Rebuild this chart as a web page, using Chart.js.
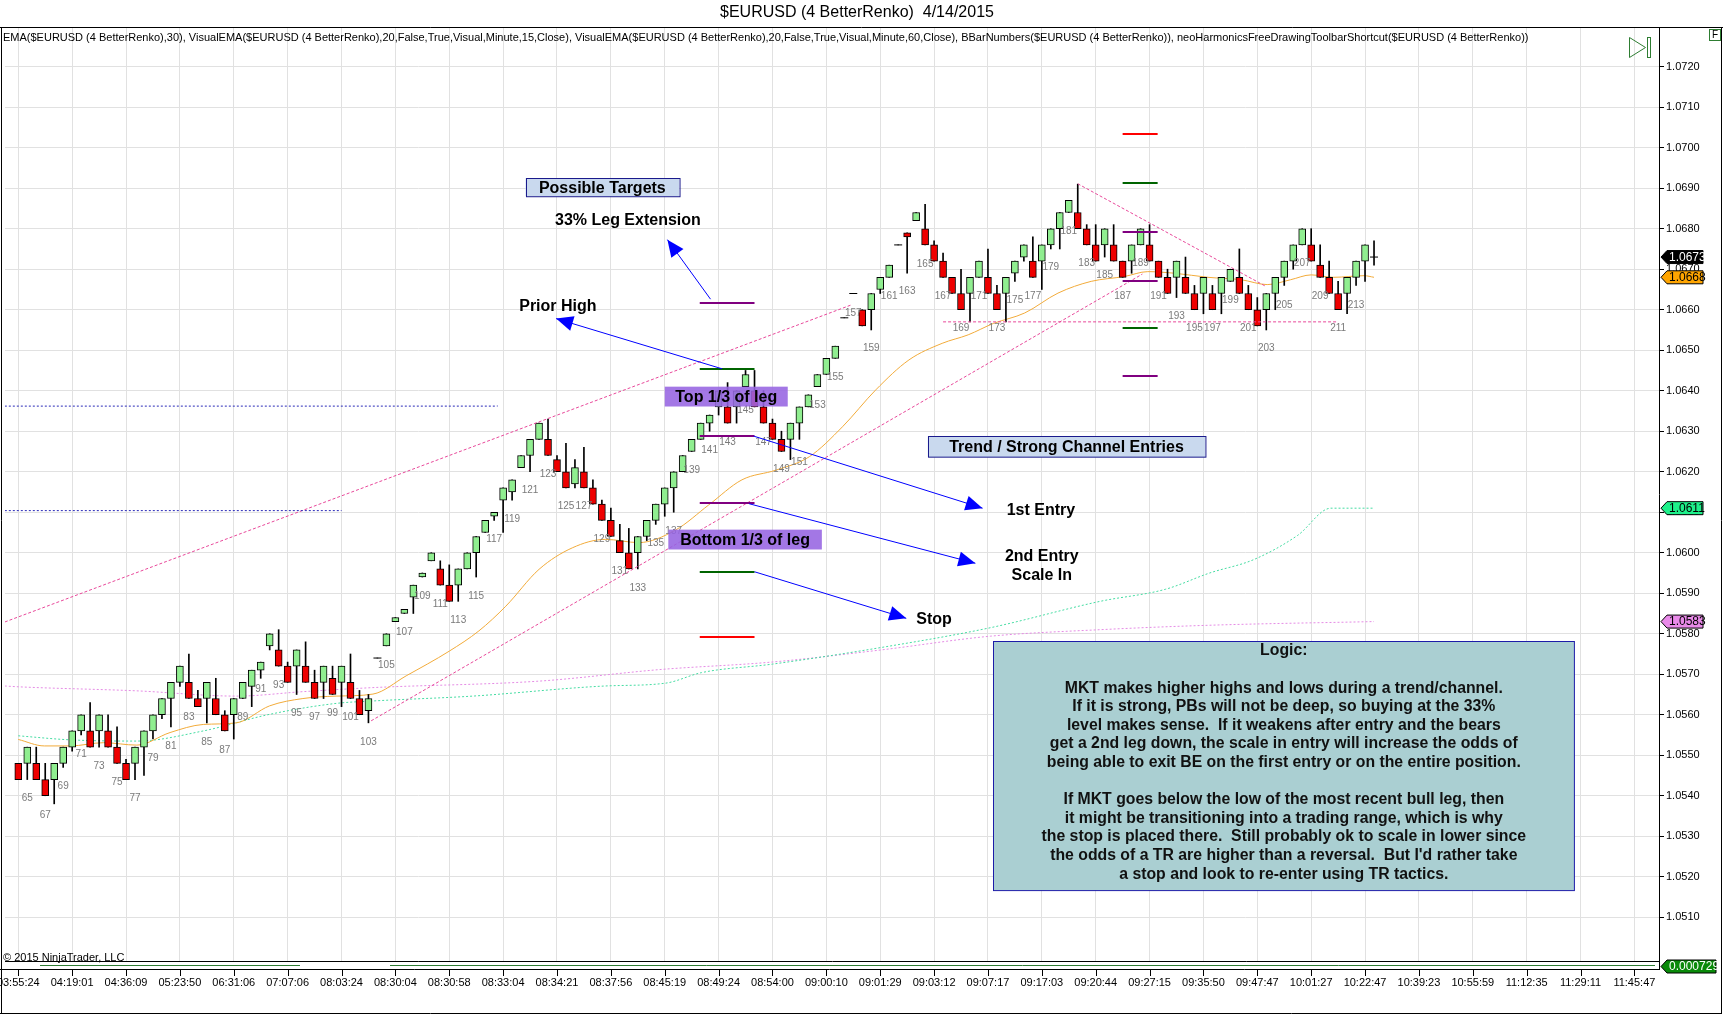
<!DOCTYPE html>
<html>
<head>
<meta charset="utf-8">
<script src="https://cdn.jsdelivr.net/npm/chart.js@4.4.1/dist/chart.umd.min.js"></script>
<style>
  html, body { margin: 0; padding: 0; background: #fff; }
  #wrap { width: 1723px; height: 1015px; position: relative; }
</style>
</head>
<body>
<div id="wrap"><canvas id="c" width="1723" height="1015"></canvas></div>
<script>
// renko bricks, bar numbers 64 .. 215
const firstBar = 64;
const opens = [
  1.0548,1.0548,1.0548,1.0544,1.0544,1.0548,1.0552,1.0556,1.0556,1.0556,
  1.0556,1.0552,1.0548,1.0548,1.0552,1.0556,1.0560,1.0564,1.0568,1.0568,
  1.0564,1.0564,1.0564,1.0560,1.0560,1.0564,1.0567,1.0571,1.0577,1.0576,
  1.0572,1.0572,1.0572,1.0568,1.0568,1.0569,1.0568,1.0568,1.0564,1.0561,
  1.0574,1.0577,1.0583,1.0585,1.0589,1.0594,1.0598,1.0596,1.0592,1.0592,
  1.0596,1.0600,1.0605,1.0609,1.0613,1.0615,1.0621,1.0624,1.0628,1.0628,
  1.0623,1.0620,1.0617,1.0620,1.0616,1.0612,1.0608,1.0603,1.0600,1.0600,
  1.0604,1.0608,1.0612,1.0616,1.0620,1.0625,1.0628,1.0632,1.0636,1.0636,
  1.0636,1.0641,1.0640,1.0636,1.0632,1.0628,1.0628,1.0632,1.0636,1.0641,
  1.0644,1.0648,1.0658,1.0664,1.0660,1.0660,1.0665,1.0668,1.0676,1.0679,
  1.0682,1.0680,1.0676,1.0672,1.0668,1.0664,1.0664,1.0668,1.0668,1.0664,
  1.0664,1.0669,1.0673,1.0672,1.0672,1.0676,1.0680,1.0684,1.0684,1.0680,
  1.0676,1.0676,1.0676,1.0672,1.0672,1.0676,1.0676,1.0672,1.0668,1.0668,
  1.0668,1.0664,1.0664,1.0664,1.0664,1.0667,1.0668,1.0664,1.0660,1.0660,
  1.0664,1.0668,1.0672,1.0676,1.0676,1.0671,1.0668,1.0664,1.0664,1.0668,
  1.0672,1.0673
];
const closes = [
  1.0544,1.0552,1.0544,1.0540,1.0548,1.0552,1.0556,1.0560,1.0552,1.0560,
  1.0552,1.0548,1.0544,1.0552,1.0556,1.0560,1.0564,1.0568,1.0572,1.0564,
  1.0562,1.0568,1.0560,1.0556,1.0564,1.0568,1.0571,1.0573,1.0580,1.0572,
  1.0568,1.0576,1.0568,1.0564,1.0572,1.0565,1.0572,1.0564,1.0560,1.0564,
  1.0574,1.0580,1.0584,1.0586,1.0592,1.0595,1.0600,1.0592,1.0588,1.0596,
  1.0600,1.0604,1.0608,1.0610,1.0616,1.0618,1.0624,1.0628,1.0632,1.0624,
  1.0620,1.0616,1.0621,1.0616,1.0612,1.0608,1.0604,1.0600,1.0596,1.0604,
  1.0608,1.0612,1.0616,1.0620,1.0624,1.0628,1.0632,1.0634,1.0640,1.0632,
  1.0640,1.0644,1.0636,1.0632,1.0628,1.0625,1.0632,1.0636,1.0639,1.0644,
  1.0648,1.0651,1.0658,1.0664,1.0656,1.0664,1.0668,1.0671,1.0676,1.0678,
  1.0684,1.0676,1.0672,1.0668,1.0664,1.0660,1.0668,1.0672,1.0664,1.0660,
  1.0668,1.0672,1.0676,1.0668,1.0676,1.0680,1.0684,1.0687,1.0680,1.0676,
  1.0672,1.0680,1.0672,1.0668,1.0676,1.0680,1.0672,1.0668,1.0664,1.0672,
  1.0664,1.0660,1.0668,1.0660,1.0668,1.0670,1.0664,1.0660,1.0656,1.0664,
  1.0668,1.0672,1.0676,1.0680,1.0672,1.0668,1.0664,1.0660,1.0668,1.0672,
  1.0676,1.0673
];
const highs = [
  1.0548,1.0552,1.0552,1.0548,1.0548,1.0552,1.0556,1.0560,1.0563,1.0560,
  1.0560,1.0557,1.0549,1.0552,1.0556,1.0560,1.0564,1.0568,1.0572,1.0575,
  1.0566,1.0568,1.0569,1.0561,1.0564,1.0568,1.0571,1.0573,1.0580,1.0581,
  1.0573,1.0576,1.0578,1.0571,1.0572,1.0572,1.0572,1.0575,1.0566,1.0565,
  1.0574,1.0580,1.0584,1.0586,1.0592,1.0595,1.0600,1.0598,1.0597,1.0596,
  1.0600,1.0604,1.0608,1.0610,1.0616,1.0618,1.0624,1.0628,1.0632,1.0633,
  1.0624,1.0627,1.0623,1.0626,1.0618,1.0613,1.0611,1.0607,1.0606,1.0604,
  1.0608,1.0612,1.0616,1.0620,1.0624,1.0628,1.0632,1.0634,1.0640,1.0642,
  1.0640,1.0645,1.0645,1.0640,1.0633,1.0630,1.0632,1.0636,1.0639,1.0644,
  1.0648,1.0651,1.0658,1.0664,1.0660,1.0664,1.0668,1.0671,1.0676,1.0679,
  1.0684,1.0686,1.0677,1.0674,1.0668,1.0670,1.0668,1.0672,1.0675,1.0666,
  1.0668,1.0672,1.0676,1.0678,1.0676,1.0680,1.0684,1.0687,1.0691,1.0681,
  1.0681,1.0680,1.0681,1.0672,1.0676,1.0680,1.0681,1.0672,1.0670,1.0672,
  1.0673,1.0666,1.0668,1.0666,1.0668,1.0670,1.0675,1.0666,1.0663,1.0664,
  1.0668,1.0672,1.0676,1.0680,1.0680,1.0676,1.0672,1.0667,1.0668,1.0672,
  1.0676,1.0677
];
const lows = [
  1.0544,1.0544,1.0544,1.0540,1.0538,1.0547,1.0551,1.0555,1.0552,1.0552,
  1.0552,1.0548,1.0544,1.0544,1.0545,1.0554,1.0559,1.0557,1.0567,1.0564,
  1.0562,1.0558,1.0560,1.0556,1.0554,1.0564,1.0562,1.0569,1.0576,1.0572,
  1.0568,1.0565,1.0568,1.0564,1.0564,1.0565,1.0562,1.0564,1.0560,1.0558,
  1.0574,1.0577,1.0583,1.0585,1.0585,1.0594,1.0598,1.0592,1.0588,1.0588,
  1.0596,1.0594,1.0605,1.0608,1.0605,1.0613,1.0621,1.0620,1.0628,1.0624,
  1.0620,1.0616,1.0616,1.0616,1.0612,1.0608,1.0604,1.0600,1.0596,1.0596,
  1.0603,1.0607,1.0609,1.0610,1.0620,1.0625,1.0628,1.0630,1.0634,1.0632,
  1.0632,1.0641,1.0636,1.0632,1.0628,1.0625,1.0623,1.0628,1.0636,1.0641,
  1.0644,1.0648,1.0658,1.0664,1.0656,1.0655,1.0664,1.0668,1.0676,1.0669,
  1.0682,1.0676,1.0672,1.0668,1.0664,1.0660,1.0657,1.0668,1.0664,1.0660,
  1.0657,1.0667,1.0672,1.0668,1.0665,1.0675,1.0675,1.0684,1.0680,1.0676,
  1.0672,1.0673,1.0672,1.0668,1.0669,1.0676,1.0672,1.0668,1.0664,1.0663,
  1.0664,1.0660,1.0659,1.0660,1.0659,1.0667,1.0664,1.0660,1.0656,1.0655,
  1.0660,1.0666,1.0670,1.0676,1.0672,1.0668,1.0664,1.0660,1.0659,1.0666,
  1.0667,1.0671
];

// EMA(30) on bricks
const emaBars = [64,66.9,69.8,73.5,77.2,80.9,84.6,88.3,92.0,95.7,99.4,103.5,107.2,112.0,115.3,118.3,122.0,125.7,129.4,133.1,
  137.2,140.9,144.6,148.4,152.1,155.8,159.5,163.2,166.9,169.8,172.6,176.1,179.8,183.5,187.2,189.8,192.8,196.5,200.2,203.1,
  205.7,208.0,210.5,213.9,215];
const emaVals = [1.05539,1.05523,1.05523,1.05531,1.05525,1.05556,1.05576,1.0558,1.05622,1.0564,1.05646,1.05651,1.05696,1.05757,1.05807,1.05868,1.05959,1.06012,1.06033,1.06025,
  1.06056,1.06118,1.0618,1.06204,1.06237,1.06311,1.06402,1.06476,1.06517,1.06538,1.06566,1.06592,1.06641,1.0667,1.06682,1.06694,1.0669,1.0668,1.06674,1.06662,
  1.06674,1.06686,1.0668,1.06684,1.0668];
// VisualEMA 15 minute
const ema15Bars = [64,69.8,77.2,84.6,92,99.4,103.5,114.6,129.4,136.1,140.1,148,160.1,172.3,184.5,191.8,196.7,201.6,206.5,210.2,215];
const ema15Vals = [1.05548,1.05538,1.05535,1.0556,1.05601,1.05628,1.05634,1.05646,1.05671,1.05678,1.05704,1.05725,1.05766,1.05815,1.0588,1.0591,1.0595,1.05983,1.06043,1.0611,1.0611];
// VisualEMA 60 minute
const ema60Bars = [62.5,64,77.2,88.3,95.7,103.5,122,135.7,147.9,160.1,172.3,184.5,196.7,215];
const ema60Vals = [1.05671,1.05669,1.05659,1.05646,1.05657,1.05667,1.05683,1.05712,1.0573,1.0576,1.05794,1.0581,1.05821,1.0583];

// bar number labels (odd bars) and the price level they sit at
const barNumberBars = [65,67,69,71,73,75,77,79,81,83,85,87,89,91,93,95,97,99,101,103,
  105,107,109,111,113,115,117,119,121,123,125,127,129,131,133,135,137,139,141,143,
  145,147,149,151,153,155,157,159,161,163,165,167,169,171,173,175,177,179,181,183,
  185,187,189,191,193,195,197,199,201,203,205,207,209,211,213];
const barNumberPrices = [1.05394,1.05353,1.05424,1.05502,1.05472,1.05434,1.05394,1.05492,1.05523,1.05594,1.05533,1.05513,1.05594,1.05663,1.05673,1.05603,1.05594,1.05603,1.05594,1.05533,
  1.05722,1.05804,1.05893,1.05873,1.05834,1.05893,1.06033,1.06082,1.06154,1.06193,1.06115,1.06115,1.06033,1.05955,1.05912,1.06023,1.06053,1.06204,1.06252,1.06273,
  1.06353,1.06273,1.06205,1.06224,1.06363,1.06433,1.06592,1.06504,1.06633,1.06645,1.06713,1.06633,1.06553,1.06633,1.06553,1.06623,1.06633,1.06704,1.06793,1.06715,
  1.06684,1.06633,1.06715,1.06633,1.06584,1.06553,1.06553,1.06623,1.06553,1.06504,1.06612,1.06715,1.06633,1.06553,1.06612];

const timeTickBars = [64,70,76,82,88,94,100,106,112,118,124,130,136,142,148,154,160,166,172,178,184,190,196,202,208,214,220,226,232,238,244];
const timeLabels = ['03:55:24','04:19:01','04:36:09','05:23:50','06:31:06','07:07:06','08:03:24','08:30:04','08:30:58','08:33:04',
  '08:34:21','08:37:56','08:45:19','08:49:24','08:54:00','09:00:10','09:01:29','09:03:12','09:07:17','09:17:03',
  '09:20:44','09:27:15','09:35:50','09:47:47','10:01:27','10:22:47','10:39:23','10:55:59','11:12:35','11:29:11','11:45:47'];
const priceTicks = [1.0510,1.0520,1.0530,1.0540,1.0550,1.0560,1.0570,1.0580,1.0590,1.0600,1.0610,
  1.0620,1.0630,1.0640,1.0650,1.0660,1.0670,1.0680,1.0690,1.0700,1.0710,1.0720];

// drawing objects, in bar / price units
const trendLines = [
  { x1: 62.5, y1: 1.05829, x2: 156.8, y2: 1.06612, color: '#e8489a', dash: [3, 2] },
  { x1: 103.3, y1: 1.05585, x2: 189.2, y2: 1.06688, color: '#e8489a', dash: [3, 2] },
  { x1: 182, y1: 1.06911, x2: 203, y2: 1.06657, color: '#e8489a', dash: [3, 2] },
  { x1: 167, y1: 1.0657, x2: 211, y2: 1.0657, color: '#e8489a', dash: [3, 2] },
  { x1: 62.5, y1: 1.06362, x2: 117.4, y2: 1.06362, color: '#2a2ab8', dash: [2, 2] },
  { x1: 62.5, y1: 1.06104, x2: 100, y2: 1.06104, color: '#2a2ab8', dash: [2, 2] }
];
const levelSegments = [
  { x1: 139.9, x2: 146.0, y: 1.06617, color: '#800080' },
  { x1: 139.9, x2: 146.0, y: 1.06453, color: '#006400' },
  { x1: 139.9, x2: 146.0, y: 1.06288, color: '#800080' },
  { x1: 139.9, x2: 146.0, y: 1.06122, color: '#800080' },
  { x1: 139.9, x2: 146.0, y: 1.05953, color: '#006400' },
  { x1: 139.9, x2: 146.0, y: 1.05791, color: '#ff0000' },
  { x1: 187.0, x2: 190.9, y: 1.07034, color: '#ff0000' },
  { x1: 187.0, x2: 190.9, y: 1.06914, color: '#006400' },
  { x1: 187.0, x2: 190.9, y: 1.06791, color: '#800080' },
  { x1: 187.0, x2: 190.9, y: 1.06672, color: '#800080' },
  { x1: 187.0, x2: 190.9, y: 1.06554, color: '#006400' },
  { x1: 187.0, x2: 190.9, y: 1.06436, color: '#800080' }
];
const arrows = [
  { x1: 141.1, y1: 1.06626, x2: 136.3, y2: 1.06773 },
  { x1: 142.4, y1: 1.06454, x2: 123.9, y2: 1.06578 },
  { x1: 145.9, y1: 1.06288, x2: 171.4, y2: 1.0611 },
  { x1: 145.4, y1: 1.06121, x2: 170.6, y2: 1.05974 },
  { x1: 146.0, y1: 1.05953, x2: 162.9, y2: 1.05838 }
];
const plainTexts = [
  { text: '33% Leg Extension', x: 131.9, y: 1.06819 },
  { text: 'Prior High', x: 124.1, y: 1.06608 },
  { text: '1st Entry', x: 177.9, y: 1.06103 },
  { text: '2nd Entry', x: 178.0, y: 1.0599 },
  { text: 'Scale In', x: 178.0, y: 1.05944 },
  { text: 'Stop', x: 166.0, y: 1.05836 }
];
const textBoxes = [
  { text: 'Possible Targets', x1: 120.5, x2: 137.6, y1: 1.06925, y2: 1.0688, fill: '#c9d9ee', border: '#1a1a8c' },
  { text: 'Top 1/3 of leg', x1: 136.0, x2: 149.7, y1: 1.0641, y2: 1.06361, fill: 'rgba(150,100,225,0.88)', border: null },
  { text: 'Bottom 1/3 of leg', x1: 136.4, x2: 153.5, y1: 1.06057, y2: 1.06008, fill: 'rgba(150,100,225,0.88)', border: null },
  { text: 'Trend / Strong Channel Entries', x1: 165.3, x2: 196.2, y1: 1.06287, y2: 1.06236, fill: '#c9d9ee', border: '#1a1a8c' }
];
const logicBox = { x1: 172.6, x2: 237.3, y1: 1.05782, y2: 1.05167 };
const logicLines = [
  'Logic:', '',
  'MKT makes higher highs and lows during a trend/channel.',
  'If it is strong, PBs will not be deep, so buying at the 33%',
  'level makes sense.  If it weakens after entry and the bears',
  'get a 2nd leg down, the scale in entry will increase the odds of',
  'being able to exit BE on the first entry or on the entire position.',
  '',
  'If MKT goes below the low of the most recent bull leg, then',
  'it might be transitioning into a trading range, which is why',
  'the stop is placed there.  Still probably ok to scale in lower since',
  'the odds of a TR are higher than a reversal.  But I\'d rather take',
  'a stop and look to re-enter using TR tactics.'
];

const FONT = "'Liberation Sans', Arial, sans-serif";
Chart.defaults.font.family = FONT;

const bodyColors = opens.map((o, i) => closes[i] > o ? '#90ee90' : (closes[i] < o ? '#ee0000' : 'rgba(0,0,0,0)'));
const dojiPoints = opens.map((o, i) => ({ x: firstBar + i, y: closes[i], d: o === closes[i] })).filter(p => p.d);

function drawArrow(ctx, x1, y1, x2, y2) {
  ctx.strokeStyle = '#0000ff'; ctx.fillStyle = '#0000ff'; ctx.lineWidth = 1;
  ctx.beginPath(); ctx.moveTo(x1, y1); ctx.lineTo(x2, y2); ctx.stroke();
  const a = Math.atan2(y2 - y1, x2 - x1), L = 17, W = 7.5;
  ctx.beginPath();
  ctx.moveTo(x2, y2);
  ctx.lineTo(x2 - L * Math.cos(a) + W * Math.sin(a), y2 - L * Math.sin(a) - W * Math.cos(a));
  ctx.lineTo(x2 - L * Math.cos(a) - W * Math.sin(a), y2 - L * Math.sin(a) + W * Math.cos(a));
  ctx.closePath(); ctx.fill();
}

function priceMarker(ctx, left, y, text, fill, color, w) {
  const h = 13;
  ctx.beginPath();
  ctx.moveTo(left, y); ctx.lineTo(left + 6, y - h / 2); ctx.lineTo(left + w, y - h / 2);
  ctx.lineTo(left + w, y + h / 2); ctx.lineTo(left + 6, y + h / 2); ctx.closePath();
  ctx.fillStyle = fill; ctx.fill();
  ctx.strokeStyle = '#000'; ctx.lineWidth = 1; ctx.stroke();
  ctx.fillStyle = color; ctx.font = '12px ' + FONT; ctx.textAlign = 'left'; ctx.textBaseline = 'middle';
  ctx.fillText(text, left + 8, y + 0.5);
}

const drawings = {
  id: 'drawings',
  afterDatasetsDraw(chart) {
    const { ctx, chartArea: ca, scales: { x, y } } = chart;
    const X = v => x.getPixelForValue(v), Y = v => y.getPixelForValue(v);
    ctx.save();
    ctx.beginPath(); ctx.rect(ca.left, ca.top, ca.right - ca.left, ca.bottom - ca.top); ctx.clip();

    // bar numbers
    ctx.fillStyle = '#7a7a7a'; ctx.font = '10px ' + FONT; ctx.textAlign = 'center'; ctx.textBaseline = 'middle';
    barNumberBars.forEach((b, i) => ctx.fillText(String(b), X(b), Y(barNumberPrices[i])));

    trendLines.forEach(l => {
      ctx.strokeStyle = l.color; ctx.lineWidth = 1; ctx.setLineDash(l.dash);
      ctx.beginPath(); ctx.moveTo(X(l.x1), Y(l.y1)); ctx.lineTo(X(l.x2), Y(l.y2)); ctx.stroke();
    });
    ctx.setLineDash([]);

    levelSegments.forEach(s => {
      ctx.strokeStyle = s.color; ctx.lineWidth = 2;
      ctx.beginPath(); ctx.moveTo(X(s.x1), Math.round(Y(s.y))); ctx.lineTo(X(s.x2), Math.round(Y(s.y))); ctx.stroke();
    });

    arrows.forEach(a => drawArrow(ctx, X(a.x1), Y(a.y1), X(a.x2), Y(a.y2)));

    ctx.font = 'bold 16px ' + FONT; ctx.textAlign = 'center'; ctx.textBaseline = 'middle'; ctx.fillStyle = '#000';
    plainTexts.forEach(t => ctx.fillText(t.text, X(t.x), Y(t.y)));

    textBoxes.forEach(b => {
      const l = X(b.x1), r = X(b.x2), t = Y(b.y1), bt = Y(b.y2);
      ctx.fillStyle = b.fill; ctx.fillRect(l, t, r - l, bt - t);
      if (b.border) { ctx.strokeStyle = b.border; ctx.lineWidth = 1; ctx.strokeRect(Math.round(l) + 0.5, Math.round(t) + 0.5, r - l, bt - t); }
      ctx.fillStyle = '#000'; ctx.font = 'bold 16px ' + FONT;
      ctx.fillText(b.text, (l + r) / 2, (t + bt) / 2 + 1);
    });

    // logic box
    const ll = X(logicBox.x1), lr = X(logicBox.x2), lt = Y(logicBox.y1), lb = Y(logicBox.y2);
    ctx.fillStyle = '#aacfd2'; ctx.fillRect(ll, lt, lr - ll, lb - lt);
    ctx.strokeStyle = '#1c1ca8'; ctx.lineWidth = 1;
    ctx.strokeRect(Math.round(ll) + 0.5, Math.round(lt) + 0.5, lr - ll, lb - lt);
    ctx.fillStyle = '#111'; ctx.font = 'bold 15.8px ' + FONT;
    logicLines.forEach((s, i) => ctx.fillText(s, (ll + lr) / 2, lt + 10 + i * 18.6));

    ctx.restore();
  },
  afterDraw(chart) {
    const { ctx, chartArea: ca, scales: { y } } = chart;
    const W = chart.width, H = chart.height;
    ctx.save();
    // frame
    ctx.strokeStyle = '#000'; ctx.lineWidth = 1;
    ctx.beginPath();
    ctx.moveTo(0, 27.5); ctx.lineTo(W, 27.5);
    ctx.moveTo(1.5, 27); ctx.lineTo(1.5, 1013.5);
    ctx.moveTo(0, 1013.5); ctx.lineTo(W - 1, 1013.5);
    ctx.moveTo(W - 1.5, 27); ctx.lineTo(W - 1.5, 1014);
    ctx.moveTo(0, 969.5); ctx.lineTo(ca.right, 969.5);
    ctx.moveTo(ca.right + 0.5, ca.bottom); ctx.lineTo(ca.right + 0.5, 970);
    ctx.stroke();
    // time-axis tick marks
    const xs = chart.scales.x;
    ctx.beginPath();
    timeTickBars.forEach(b => { const p = Math.round(xs.getPixelForValue(b)) + 0.5; ctx.moveTo(p, 969); ctx.lineTo(p, 976); });
    ctx.stroke();
    // thin indicator trace in lower panel
    ctx.strokeStyle = '#2e7d32'; ctx.lineWidth = 1;
    ctx.beginPath(); ctx.moveTo(40, 965.5); ctx.lineTo(300, 965.5); ctx.moveTo(390, 965.5); ctx.lineTo(1655, 965.5); ctx.stroke();

    // title and indicator list
    ctx.fillStyle = '#000'; ctx.textBaseline = 'middle';
    ctx.font = '16px ' + FONT; ctx.textAlign = 'center';
    ctx.fillText('$EURUSD (4 BetterRenko)  4/14/2015', 857, 13);
    ctx.font = '11px ' + FONT; ctx.textAlign = 'left';
    ctx.fillText('EMA($EURUSD (4 BetterRenko),30), VisualEMA($EURUSD (4 BetterRenko),20,False,True,Visual,Minute,15,Close), VisualEMA($EURUSD (4 BetterRenko),20,False,True,Visual,Minute,60,Close), BBarNumbers($EURUSD (4 BetterRenko)), neoHarmonicsFreeDrawingToolbarShortcut($EURUSD (4 BetterRenko))', 3, 38);
    ctx.fillText('\u00a9 2015 NinjaTrader, LLC', 3, 958);

    // play-to-end icon and F box
    ctx.beginPath(); ctx.moveTo(1629.5, 37.5); ctx.lineTo(1645.5, 47.5); ctx.lineTo(1629.5, 57.5); ctx.closePath(); ctx.stroke();
    ctx.strokeRect(1647.5, 37.5, 3, 20);
    ctx.strokeRect(1709.5, 29.5, 11, 11);
    ctx.font = '10px ' + FONT; ctx.textAlign = 'center'; ctx.fillText('F', 1715, 35.5);

    // last value markers
    const left = ca.right + 2;
    priceMarker(ctx, left, y.getPixelForValue(closes[closes.length - 1]), closes[closes.length - 1].toFixed(4), '#000', '#fff', 42);
    priceMarker(ctx, left, y.getPixelForValue(emaVals[emaVals.length - 1]), emaVals[emaVals.length - 1].toFixed(4), '#ffa500', '#000', 42);
    priceMarker(ctx, left, y.getPixelForValue(ema15Vals[ema15Vals.length - 1]), ema15Vals[ema15Vals.length - 1].toFixed(4), '#1ef08a', '#000', 42);
    priceMarker(ctx, left, y.getPixelForValue(ema60Vals[ema60Vals.length - 1]), ema60Vals[ema60Vals.length - 1].toFixed(4), '#e98ae9', '#000', 42);
    priceMarker(ctx, left, 966.5, '0.000729', '#0a8a0a', '#fff', 55);
    ctx.restore();
  }
};

new Chart(document.getElementById('c'), {
  type: 'bar',
  data: {
    datasets: [
      {
        type: 'line', label: 'doji', order: 1,
        data: dojiPoints, showLine: false,
        pointStyle: 'line', pointRadius: 4, pointBorderColor: '#000', pointBorderWidth: 1
      },
      {
        type: 'bar', label: 'body', order: 2, grouped: false,
        data: opens.map((o, i) => ({ x: firstBar + i, y: [o, closes[i]] })),
        backgroundColor: bodyColors, borderColor: '#000', borderWidth: 1, borderSkipped: false,
        barThickness: 7
      },
      {
        type: 'bar', label: 'wick', order: 3, grouped: false,
        data: lows.map((l, i) => ({ x: firstBar + i, y: [l, highs[i]] })),
        backgroundColor: '#000', borderWidth: 0, barThickness: 1
      },
      {
        type: 'line', label: 'EMA 30', order: 5,
        data: emaBars.map((b, i) => ({ x: b, y: emaVals[i] })),
        borderColor: '#f2ab3a', borderWidth: 1, pointRadius: 0, cubicInterpolationMode: 'monotone'
      },
      {
        type: 'line', label: 'VisualEMA 15', order: 6,
        data: ema15Bars.map((b, i) => ({ x: b, y: ema15Vals[i] })),
        borderColor: '#45dca2', borderWidth: 1, borderDash: [2, 2], pointRadius: 0, cubicInterpolationMode: 'monotone'
      },
      {
        type: 'line', label: 'VisualEMA 60', order: 6,
        data: ema60Bars.map((b, i) => ({ x: b, y: ema60Vals[i] })),
        borderColor: '#e58be5', borderWidth: 1, borderDash: [2, 2], pointRadius: 0, cubicInterpolationMode: 'monotone'
      }
    ]
  },
  options: {
    responsive: false,
    animation: false,
    devicePixelRatio: 1,
    layout: { padding: { top: 27, left: 1, right: 0, bottom: 0 } },
    plugins: { legend: { display: false }, tooltip: { enabled: false }, title: { display: false } },
    scales: {
      x: {
        type: 'linear', min: 62.52, max: 246.74, offset: false, bounds: 'data',
        afterBuildTicks: a => { a.ticks = timeTickBars.map(v => ({ value: v })); },
        afterFit: a => { a.height = 54; a.paddingLeft = 0; a.paddingRight = 0; },
        ticks: { autoSkip: false, maxRotation: 0, color: '#000', font: { size: 11 }, padding: 15,
          callback: (v, i) => timeLabels[i] },
        grid: { color: '#e1e1e1', drawTicks: false, offset: false },
        border: { display: true, color: '#000' }
      },
      y: {
        type: 'linear', position: 'right', min: 1.04992, max: 1.07298, bounds: 'data',
        afterBuildTicks: a => { a.ticks = priceTicks.map(v => ({ value: v })); },
        afterFit: a => { a.width = 64; a.paddingTop = 0; a.paddingBottom = 0; },
        ticks: { color: '#000', font: { size: 11 }, padding: 2, callback: v => v.toFixed(4) },
        grid: { color: '#e1e1e1', tickColor: '#000', tickLength: 5 },
        border: { display: true, color: '#000' }
      }
    }
  },
  plugins: [drawings]
});
</script>
</body>
</html>
